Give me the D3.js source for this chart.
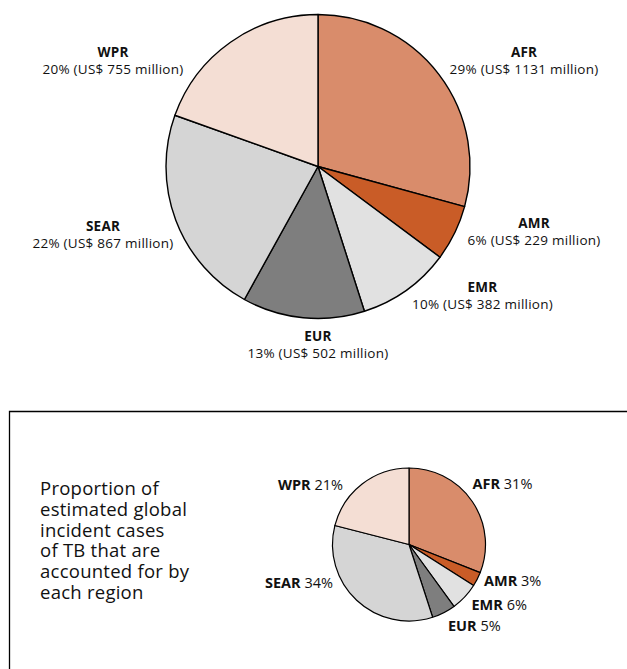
<!DOCTYPE html>
<html>
<head>
<meta charset="utf-8">
<script src="https://cdn.jsdelivr.net/npm/d3@7"></script>
<style>
  html, body { margin: 0; padding: 0; background: #fff; }
  svg { display: block; font-family: "Open Sans", "DejaVu Sans", sans-serif; }
</style>
</head>
<body>
<svg id="chart" width="627" height="669"></svg>
<script>
// Regions, in clockwise order from 12 o'clock
const regions = ["AFR", "AMR", "EMR", "EUR", "SEAR", "WPR"];
// Funding by region (US$ million) and share of the total
const fundingMillions = [1131, 229, 382, 502, 867, 755];
const fundingShare = [29, 6, 10, 13, 22, 20];
// Share of estimated global incident TB cases (%)
const incidenceShare = [31, 3, 6, 5, 34, 21];
const regionColors = ["#D98C6B", "#C95C27", "#E1E1E1", "#7E7E7E", "#D5D5D5", "#F4DED4"];

const svg = d3.select("#chart");
const color = d3.scaleOrdinal().domain(regions).range(regionColors);

const pie = d3.pie().sort(null).value(d => d.value);

// ---- Top pie: funding ----
const topData = regions.map((r, i) => ({ region: r, value: fundingMillions[i], pct: fundingShare[i] }));
const topR = 152;
const topG = svg.append("g").attr("transform", "translate(318,166.5)");
const topArc = d3.arc().innerRadius(0).outerRadius(topR);
topG.selectAll("path")
  .data(pie(topData))
  .join("path")
  .attr("d", topArc)
  .attr("fill", d => color(d.data.region))
  .attr("stroke", "#000")
  .attr("stroke-width", 1.4)
  .attr("stroke-linejoin", "round");

// Label anchor positions, relative to the pie centre
const topLabelPos = {
  AFR: [206, -109.5],
  AMR: [216, 61.5],
  EMR: [164.5, 125.5],
  EUR: [0, 174.5],
  SEAR: [-215, 64.5],
  WPR: [-205, -109.5]
};
const topLabels = topG.selectAll("g.lbl")
  .data(topData)
  .join("g")
  .attr("class", "lbl")
  .attr("transform", d => `translate(${topLabelPos[d.region][0]},${topLabelPos[d.region][1]})`);
topLabels.append("text")
  .attr("text-anchor", "middle")
  .attr("font-size", 13.5)
  .attr("letter-spacing", 0.2)
  .attr("font-weight", "bold")
  .attr("fill", "#111")
  .text(d => d.region);
topLabels.append("text")
  .attr("text-anchor", "middle")
  .attr("y", 17)
  .attr("font-size", 13.5)
  .attr("letter-spacing", 0.25)
  .attr("fill", "#111")
  .text(d => `${d.pct}% (US$ ${d.value} million)`);

// ---- Bottom panel: incidence ----
svg.append("path")
  .attr("d", "M9.5,669 L9.5,411.5 L627,411.5")
  .attr("fill", "none")
  .attr("stroke", "#000")
  .attr("stroke-width", 1.3);

const caption = ["Proportion of", "estimated global", "incident cases", "of TB that are", "accounted for by", "each region"];
svg.append("text")
  .attr("x", 40)
  .attr("y", 495)
  .attr("font-size", 18.5)
  .attr("letter-spacing", 0.25)
  .attr("fill", "#111")
  .selectAll("tspan")
  .data(caption)
  .join("tspan")
  .attr("x", 40)
  .attr("dy", (d, i) => i === 0 ? 0 : 20.8)
  .text(d => d);

const botData = regions.map((r, i) => ({ region: r, value: incidenceShare[i] }));
const botR = 76.5;
const botG = svg.append("g").attr("transform", "translate(409,544.5)");
const botArc = d3.arc().innerRadius(0).outerRadius(botR);
botG.selectAll("path")
  .data(pie(botData))
  .join("path")
  .attr("d", botArc)
  .attr("fill", d => color(d.data.region))
  .attr("stroke", "#000")
  .attr("stroke-width", 1.2)
  .attr("stroke-linejoin", "round");

// Label positions (baseline), relative to the pie centre; left-side labels are end-anchored
const botLabelPos = {
  AFR: [63.5, -55.5, "start"],
  AMR: [75, 41, "start"],
  EMR: [62.5, 65, "start"],
  EUR: [39, 86.5, "start"],
  SEAR: [-76, 43.5, "end"],
  WPR: [-66, -55, "end"]
};
const botLabels = botG.selectAll("text.lbl")
  .data(botData)
  .join("text")
  .attr("class", "lbl")
  .attr("x", d => botLabelPos[d.region][0])
  .attr("y", d => botLabelPos[d.region][1])
  .attr("text-anchor", d => botLabelPos[d.region][2])
  .attr("font-size", 14.5)
  .attr("fill", "#111");
botLabels.append("tspan").attr("font-weight", "bold").text(d => d.region);
botLabels.append("tspan").text(d => ` ${d.value}%`);
</script>
</body>
</html>
